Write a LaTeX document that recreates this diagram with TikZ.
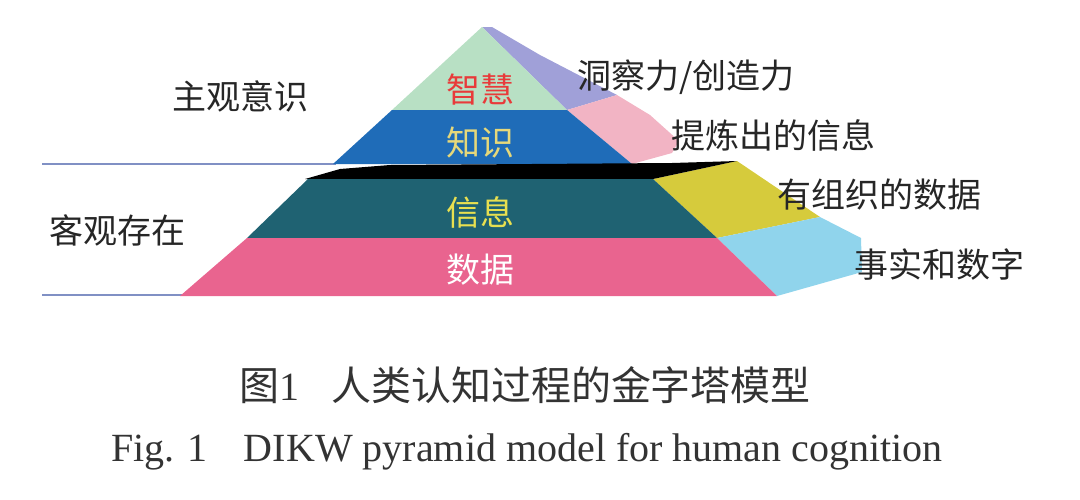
\documentclass[tikz,border=0pt]{standalone}
\usepackage{fontspec}
\setmainfont{Liberation Serif}
\newfontfamily\cjk{Noto Sans CJK SC}
\definecolor{wisdomc}{HTML}{B8E0C4}
\definecolor{purplec}{HTML}{A0A0D8}
\definecolor{pinkside}{HTML}{F2B4C4}
\definecolor{knowc}{HTML}{1F6CB8}
\definecolor{tealc}{HTML}{1F6272}
\definecolor{yellowc}{HTML}{D6CB3C}
\definecolor{datac}{HTML}{E9648F}
\definecolor{lbluec}{HTML}{90D4EC}
\definecolor{linec}{HTML}{8090C4}
\definecolor{redtxt}{HTML}{E83A3A}
\definecolor{ktxt}{HTML}{E6D87A}
\definecolor{itxt}{HTML}{E8E050}
\tikzset{
  lbl/.style={font=\cjk\fontsize{34}{40}\selectfont, inner sep=0pt},
  side/.style={font=\cjk\fontsize{34}{40}\selectfont, inner sep=0pt, anchor=west, text=black!85},
  sep/.style={draw=linec, line width=1.6pt},
}
\begin{document}
\begin{tikzpicture}[x=1pt,y=-1pt]
\useasboundingbox (0,0) rectangle (1080,499);
% separator lines
\draw[sep] (42,164) -- (336,164);
\draw[sep] (42,295) -- (182,295);
% side faces
\fill[purplec] (482,27) -- (492,27) -- (540,55) -- (617,95) -- (567,110) -- cycle;
\fill[pinkside] (567,110) -- (617,95) -- (650,115) -- (679,141) -- (672,153) -- (632,164) -- cycle;
\fill[yellowc] (653,179) -- (737,161) -- (820,217) -- (717,238) -- cycle;
\fill[lbluec] (717,238) -- (820,217) -- (861,238) -- (862,272) -- (777,296) -- cycle;
% front bands
\fill[wisdomc] (482,27) -- (567,110) -- (392,110) -- cycle;
\fill[knowc] (392,110) -- (567,110) -- (632,164) -- (333,164) -- cycle;
\fill[black] (305,179) -- (340,169) -- (390,165) -- (672,163) -- (737,161) -- (653,179) -- cycle;
\fill[tealc] (308,179) -- (653,179) -- (717,238) -- (247,238) -- cycle;
\fill[datac] (247,238) -- (717,238) -- (777,296) -- (180,296) -- cycle;
% labels
\node[lbl, text=redtxt] (w) at (480,90) {智慧};
\node[lbl, text=ktxt] (k) at (480,143) {知识};
\node[lbl, text=itxt] (i) at (480,212) {信息};
\node[lbl, text=white] (d) at (480,270) {数据};
\node[lbl, text=black!85] (subj) at (240,96) {主观意识};
\node[lbl, text=black!85] (obj) at (117,230) {客观存在};
\node[side] (s1) at (577,77) {洞察力/创造力};
\node[side] (s2) at (671,135) {提炼出的信息};
\node[side] (s3) at (777,195) {有组织的数据};
\node[side] (s4) at (854,265) {事实和数字};
% caption
\node[inner sep=0pt, text=black!80, font=\fontsize{40}{46}\selectfont] (cap1) at (525,385) {{\cjk 图}1\hspace{0.8em}{\cjk 人类认知过程的金字塔模型}};
\node[inner sep=0pt, text=black!80, font=\fontsize{40}{46}\selectfont] (cap2) at (527,452) {Fig. 1\hspace{0.9em}DIKW pyramid model for human cognition};
\end{tikzpicture}
\end{document}
